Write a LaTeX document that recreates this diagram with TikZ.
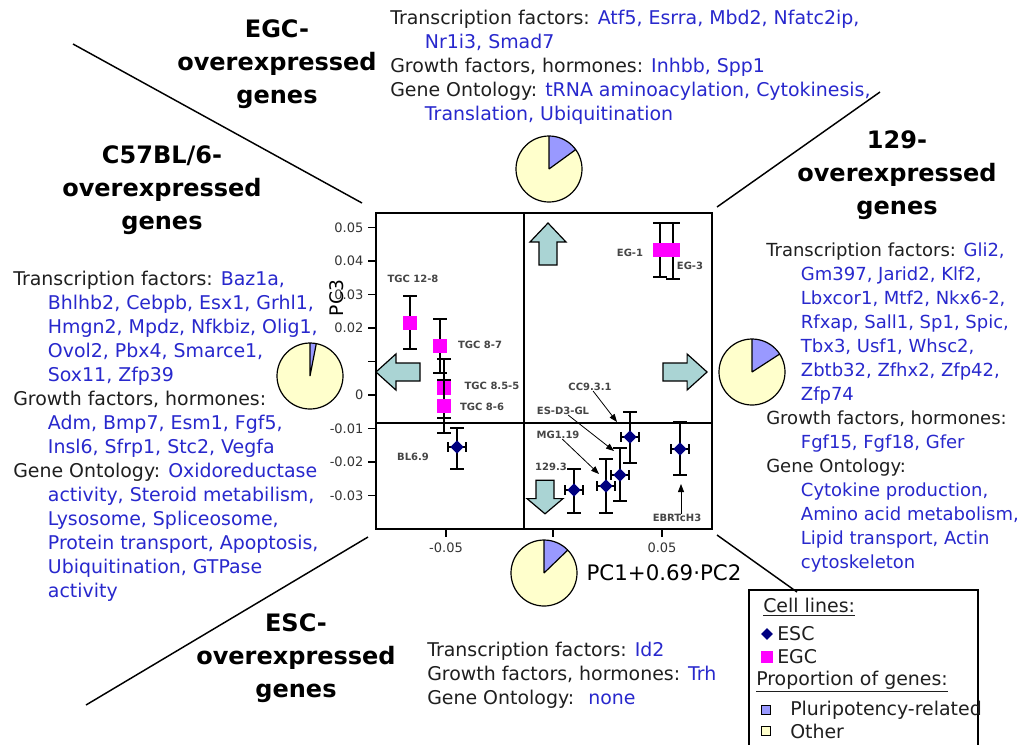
\documentclass[tikz,border=0pt]{standalone}
\usepackage{fontspec}
\setmainfont{DejaVu Sans}
\usetikzlibrary{shapes.geometric,arrows.meta}

\definecolor{genecol}{RGB}{40,40,205}
\definecolor{egcmag}{RGB}{255,0,255}
\definecolor{escnavy}{RGB}{0,0,128}
\definecolor{arrowfill}{RGB}{170,212,212}
\definecolor{pieyellow}{RGB}{255,255,204}
\definecolor{pieblue}{RGB}{153,153,255}
\definecolor{lblgray}{RGB}{70,70,70}

\newcommand{\gl}[1]{\textcolor{genecol}{#1}}
\newcommand{\ind}{\hspace*{26pt}}

\tikzset{
  genetext/.style={anchor=north west, align=left, inner sep=0pt, font=\fontsize{14.2}{18}\selectfont, text=black!88},
  legtext/.style={anchor=west, inner sep=0pt, font=\fontsize{14.2}{18}\selectfont, text=black!88},
  titletext/.style={align=center, inner sep=0pt, font=\fontsize{18}{24.75}\selectfont\bfseries},
  ticklab/.style={inner sep=0pt, font=\fontsize{9.75}{11}\selectfont, text=black!80},
  ptlab/.style={inner sep=0pt, font=\fontsize{7.5}{9}\selectfont\bfseries, text=lblgray},
  errbar/.style={line width=0.9pt},
  egcmark/.style={rectangle, fill=egcmag, minimum size=10pt, inner sep=0pt},
  escmark/.style={diamond, fill=escnavy, minimum size=10pt, inner sep=0pt},
  fatarrow/.style={draw, line width=0.9pt, fill=arrowfill, line join=miter},
  lblarrow/.style={-{Triangle[length=6pt,width=4.5pt]}, line width=0.6pt},
  splitline/.style={line width=1.1pt}
}

% pie: name, centre, angle where the blue part ends
\newcommand{\genepie}[3]{%
  \coordinate (#1) at #2;
  \fill[pieyellow] (#1) circle[radius=33];
  \fill[pieblue] (#1) -- ++(-90:33) arc[start angle=-90, end angle=-#3, radius=33] -- cycle;
  \draw[line width=0.9pt] (#1) circle[radius=33] (#1) -- ++(-90:33) (#1) -- ++(-#3:33);
}
% block arrow: centre, rotation, length factor
\newcommand{\fatarrow}[3]{%
  \draw[fatarrow, shift={#1}, rotate=#2, yscale=#3] (0,-21) -- (18,-2) -- (9,-2) -- (9,21) -- (-9,21) -- (-9,-2) -- (-18,-2) -- cycle;
}
% points: name, x, y, top, bottom
\newcommand{\egcpt}[5]{%
  \draw[errbar] (#2,#4) -- (#2,#5) (#2-7,#4) -- (#2+7,#4) (#2-7,#5) -- (#2+7,#5);
  \node[egcmark] (#1) at (#2,#3) {};
}
\newcommand{\escpt}[5]{%
  \draw[errbar] (#2,#4) -- (#2,#5) (#2-7,#4) -- (#2+7,#4) (#2-7,#5) -- (#2+7,#5)
    (#2-9,#3) -- (#2+9,#3) (#2-9,#3-5) -- (#2-9,#3+5) (#2+9,#3-5) -- (#2+9,#3+5);
  \node[escmark] (#1) at (#2,#3) {};
}

\begin{document}
\begin{tikzpicture}[x=0.75pt,y=-0.75pt]
    \useasboundingbox (0,0) rectangle (1024,744);
    \fill[white] (0,0) rectangle (1024,744);

    % quadrant lines
    \draw[splitline] (73,44) -- (362,203);
    \draw[splitline] (717,207) -- (880,92);
    \draw[splitline] (86,705) -- (368,537);
    \draw[splitline] (717,535) -- (797,592);

    % titles
    \node[titletext] (egcTitle) at (277,64) {EGC-\\overexpressed\\genes};
    \node[titletext] (blTitle) at (162,190) {C57BL/6-\\overexpressed\\genes};
    \node[titletext] (oneTitle) at (897,175) {129-\\overexpressed\\genes};
    \node[titletext] (escTitle) at (296,658) {ESC-\\overexpressed\\genes};

    % gene lists
    \node[genetext] (egcGenes) at (390,10) {Transcription factors: \gl{Atf5, Esrra, Mbd2, Nfatc2ip,}\\
      \ind\gl{Nr1i3, Smad7}\\
      Growth factors, hormones: \gl{Inhbb, Spp1}\\
      Gene Ontology: \gl{tRNA aminoacylation, Cytokinesis,}\\
      \ind\gl{Translation, Ubiquitination}};
    \node[genetext] (blGenes) at (13,271) {Transcription factors: \gl{Baz1a,}\\
      \ind\gl{Bhlhb2, Cebpb, Esx1, Grhl1,}\\
      \ind\gl{Hmgn2, Mpdz, Nfkbiz, Olig1,}\\
      \ind\gl{Ovol2, Pbx4, Smarce1,}\\
      \ind\gl{Sox11, Zfp39}\\
      Growth factors, hormones:\\
      \ind\gl{Adm, Bmp7, Esm1, Fgf5,}\\
      \ind\gl{Insl6, Sfrp1, Stc2, Vegfa}\\
      Gene Ontology: \gl{Oxidoreductase}\\
      \ind\gl{activity, Steroid metabilism,}\\
      \ind\gl{Lysosome, Spliceosome,}\\
      \ind\gl{Protein transport, Apoptosis,}\\
      \ind\gl{Ubiquitination, GTPase}\\
      \ind\gl{activity}};
    \node[genetext, font=\fontsize{13.5}{18}\selectfont] (oneGenes) at (766,243) {Transcription factors: \gl{Gli2,}\\
      \ind\gl{Gm397, Jarid2, Klf2,}\\
      \ind\gl{Lbxcor1, Mtf2, Nkx6-2,}\\
      \ind\gl{Rfxap, Sall1, Sp1, Spic,}\\
      \ind\gl{Tbx3, Usf1, Whsc2,}\\
      \ind\gl{Zbtb32, Zfhx2, Zfp42,}\\
      \ind\gl{Zfp74}\\
      Growth factors, hormones:\\
      \ind\gl{Fgf15, Fgf18, Gfer}\\
      Gene Ontology:\\
      \ind\gl{Cytokine production,}\\
      \ind\gl{Amino acid metabolism,}\\
      \ind\gl{Lipid transport, Actin}\\
      \ind\gl{cytoskeleton}};
    \node[genetext] (escGenes) at (427,642) {Transcription factors: \gl{Id2}\\
      Growth factors, hormones: \gl{Trh}\\
      Gene Ontology: \ \gl{none}};

    % pies
    \genepie{egcPie}{(549,169)}{36}
    \genepie{blPie}{(310,376)}{79}
    \genepie{onePie}{(752,372)}{33}
    \genepie{escPie}{(544,573)}{44}

    % plot frame
    \draw[line width=1.1pt] (376,213) rectangle (712,529);
    \draw[line width=1.1pt] (524,213) -- (524,529) (376,423) -- (712,423);
    \foreach \yy/\lab [count=\i] in {227.5/0.05, 261/0.04, 294.5/0.03, 328/0.02, 361.5/{}, 395/0, 428.5/-0.01, 462/-0.02, 495.5/-0.03}
      \draw[line width=0.9pt] (376,\yy) -- (368,\yy) node (ytick\i) [ticklab, anchor=east, xshift=-3pt] {\lab};
    \foreach \xx/\lab [count=\i] in {446/-0.05, 553/{}, 662/0.05}
      \draw[line width=0.9pt] (\xx,529) -- (\xx,537) node (xtick\i) [ticklab, anchor=north, yshift=-4pt] {\lab};
    \node[font=\fontsize{14}{16}\selectfont, rotate=90] (pcThree) at (337,298) {PC3};
    \node[font=\fontsize{16}{18}\selectfont] (pcOne) at (664,573) {PC1+0.69·PC2};

    % direction arrows
    \fatarrow{(548,244)}{0}{1}
    \fatarrow{(398,372)}{90}{1.05}
    \fatarrow{(685,372)}{-90}{1.05}
    \fatarrow{(545,497)}{180}{0.8}

    % EGC lines
    \egcpt{tgcA}{410}{323}{296}{349}
    \egcpt{tgcB}{440}{346}{319}{373}
    \egcpt{tgcC}{444}{388}{359}{418}
    \egcpt{tgcD}{444}{406}{380}{433}
    \egcpt{egA}{660}{250}{223}{277}
    \egcpt{egB}{673}{250}{223}{279}
    % ESC lines
    \escpt{blSix}{457}{447}{428}{469}
    \escpt{oneNine}{574}{490}{469}{513}
    \escpt{mgOne}{606}{486}{459}{513}
    \escpt{esDthree}{620}{475}{448}{501}
    \escpt{ccNine}{630}{437}{412}{463}
    \escpt{ebrt}{680}{449}{422}{475}

    \node[ptlab] (tgcAlab) at (413,279) {TGC 12-8};
    \node[ptlab] (tgcBlab) at (480,345) {TGC 8-7};
    \node[ptlab] (tgcClab) at (492,386) {TGC 8.5-5};
    \node[ptlab] (tgcDlab) at (482,407) {TGC 8-6};
    \node[ptlab] (egAlab) at (630,253) {EG-1};
    \node[ptlab] (egBlab) at (690,266) {EG-3};
    \node[ptlab] (blSixlab) at (413,457) {BL6.9};
    \node[ptlab] (oneNinelab) at (551,467) {129.3};
    \node[ptlab] (mgOnelab) at (558,435) {MG1.19};
    \node[ptlab] (esDthreelab) at (563,411) {ES-D3-GL};
    \node[ptlab] (ccNinelab) at (590,387) {CC9.3.1};
    \node[ptlab] (ebrtlab) at (677,518) {EBRTcH3};

    \coordinate (ccTip) at (617,422);
    \coordinate (esTip) at (614,451);
    \coordinate (mgTip) at (599,474);
    \coordinate (ebrtTip) at (681,484);
    \draw[lblarrow] (ccNinelab) -- (ccTip);
    \draw[lblarrow] (esDthreelab) -- (esTip);
    \draw[lblarrow] (mgOnelab) -- (mgTip);
    \draw[lblarrow] (ebrtlab.north -| ebrtTip) -- (ebrtTip);

    % legend
    \draw[line width=1.1pt] (749,750) |- (978,590) -- (978,750);
    \node[legtext] (legCell) at (763,607) {\underline{Cell lines:}};
    \node[escmark, minimum size=9pt] (legEscMark) at (767,634) {};
    \node[legtext] (legEsc) at (777,634) {ESC};
    \node[egcmark, minimum size=8.5pt] (legEgcMark) at (767,657) {};
    \node[legtext] (legEgc) at (777,657) {EGC};
    \node[legtext] (legProp) at (756,682) {\underline{Proportion of genes:}};
    \node[draw, fill=pieblue, minimum size=7pt, inner sep=0pt, line width=0.8pt] (legPluriBox) at (766,710) {};
    \node[legtext] (legPluri) at (790,710) {Pluripotency-related};
    \node[draw, fill=pieyellow, minimum size=7pt, inner sep=0pt, line width=0.8pt] (legOtherBox) at (766,731) {};
    \node[legtext] (legOther) at (790,731) {Other};
\end{tikzpicture}
\end{document}
